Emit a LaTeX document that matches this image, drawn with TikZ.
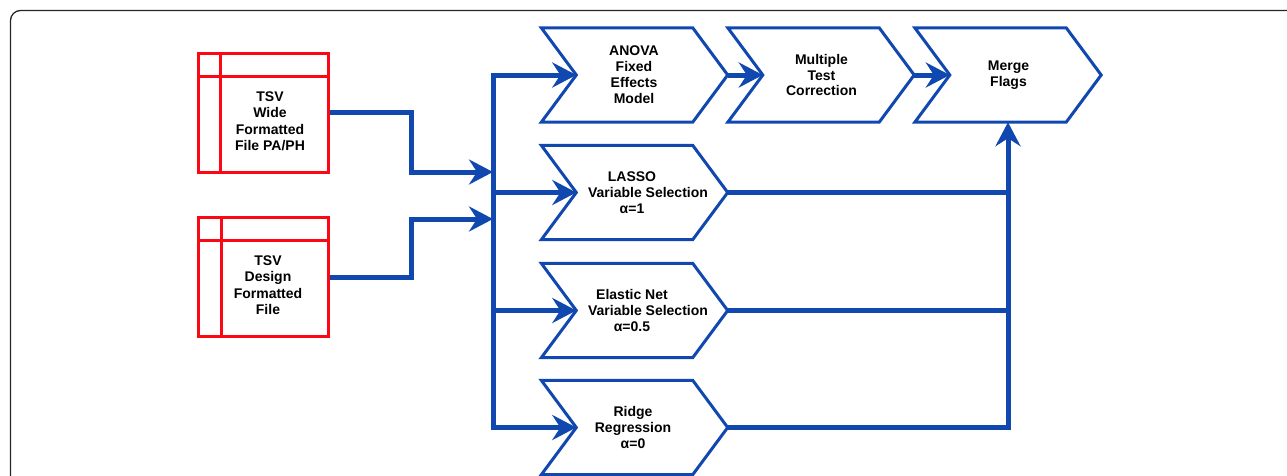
\documentclass[tikz,border=0pt]{standalone}
\usepackage{fontspec}
\setmainfont{Liberation Sans}
\usetikzlibrary{arrows.meta}
\definecolor{flowblue}{RGB}{16,72,176}
\definecolor{tsvred}{RGB}{252,8,20}
\begin{document}
\begin{tikzpicture}[x=1pt,y=-1pt,
  chevbody/.style={minimum width=151pt, minimum height=94pt, inner sep=0pt, draw=none},
  lbl/.style={font=\bfseries\fontsize{14}{15.9}\selectfont, align=center, inner sep=0pt},
  tsvlbl/.style={font=\bfseries\fontsize{14}{16.5}\selectfont, align=center, inner sep=0pt},
  chevline/.style={draw=flowblue, line width=3pt, line join=miter},
  conn/.style={draw=flowblue, line width=5pt},
  arr/.style={-{Stealth[length=24pt,width=25pt,inset=8pt]}},
  tsvbox/.style={draw=tsvred, line width=3pt, minimum width=130pt, minimum height=119pt, inner sep=0pt},
  tsvgrid/.style={draw=tsvred, line width=3pt},
  frame/.style={draw=black!85, line width=1.3pt, rounded corners=10pt},
]
\useasboundingbox (0,0) rectangle (1287,475);
\clip (0,0) rectangle (1287,475);
\draw[frame] (1300,10.5) -- (10.5,10.5) -- (10.5,490);

% TSV file boxes
\node[tsvbox] (tsv1) at (263,112.5) {};
\draw[tsvgrid] ([xshift=24pt]tsv1.north west) -- ([xshift=24pt]tsv1.south west);
\draw[tsvgrid] ([yshift=-25pt]tsv1.north west) -- ([yshift=-25pt]tsv1.north east);
\node[tsvlbl] (tsv1T) at (270,121) {TSV\\Wide\\Formatted\\File PA/PH};

\node[tsvbox] (tsv2) at (263,277) {};
\draw[tsvgrid] ([xshift=25pt]tsv2.north west) -- ([xshift=25pt]tsv2.south west);
\draw[tsvgrid] ([yshift=-24pt]tsv2.north west) -- ([yshift=-24pt]tsv2.north east);
\node[tsvlbl] (tsv2T) at (268,285) {TSV\\Design\\Formatted\\File};

% chevron bodies
\node[chevbody] (anova) at (617,75) {};
\node[chevbody] (mtc)   at (803.5,75) {};
\node[chevbody] (merge) at (990.5,75) {};
\node[chevbody] (lasso) at (617,192.5) {};
\node[chevbody] (enet)  at (617,310.5) {};
\node[chevbody] (ridge) at (617,427.5) {};

\foreach \n in {anova,mtc,merge,lasso,enet,ridge}{
  \draw[chevline] (\n.north west) -- (\n.north east) -- ([xshift=35pt]\n.east)
    -- (\n.south east) -- (\n.south west) -- ([xshift=35pt]\n.west) -- cycle;
  \coordinate (\n-in) at ([xshift=35pt]\n.west);
  \coordinate (\n-out) at ([xshift=35pt]\n.east);
}

% labels
\node[lbl] (anovaT) at ([xshift=17pt]anova.center) {ANOVA\\Fixed\\Effects\\Model};
\node[lbl] (mtcT)   at ([xshift=18pt]mtc.center) {Multiple\\Test\\Correction};
\node[lbl] (mergeT) at ([xshift=18pt]merge.center) {Merge\\Flags};
\node[lbl] (lassoT) at ([xshift=15pt]lasso.center) {LASSO\\\hspace*{32pt}Variable Selection\\α=1};
\node[lbl] (enetT)  at ([xshift=15pt]enet.center) {Elastic Net\\\hspace*{32pt}Variable Selection\\α=0.5};
\node[lbl] (ridgeT) at ([xshift=16pt]ridge.center) {Ridge\\Regression\\α=0};

% bus
\coordinate (busTop) at (493,75);
\coordinate (busBot) at (493,427.5);
\coordinate (in1) at (493,172);
\coordinate (in2) at (493,219);
\coordinate (mIn) at ([xshift=17.5pt]merge.south);

\draw[conn,arr] (tsv1.east) -- ++(82,0) |- (in1);
\draw[conn,arr] (tsv2.east) -- ++(82,0) |- (in2);
\draw[conn,line cap=rect] (busTop) -- (busBot);
\draw[conn,arr] (busTop) -- (anova-in);
\draw[conn,arr] (busTop |- lasso-in) -- (lasso-in);
\draw[conn,arr] (busTop |- enet-in) -- (enet-in);
\draw[conn,arr] (busBot) -- (ridge-in);

\draw[conn,arr] (anova-out) -- (mtc-in);
\draw[conn,arr] (mtc-out) -- (merge-in);

\draw[conn] (lasso-out) -- (lasso-out -| mIn);
\draw[conn] (enet-out) -- (enet-out -| mIn);
\draw[conn,arr] (ridge-out) -| (mIn);
\end{tikzpicture}
\end{document}
